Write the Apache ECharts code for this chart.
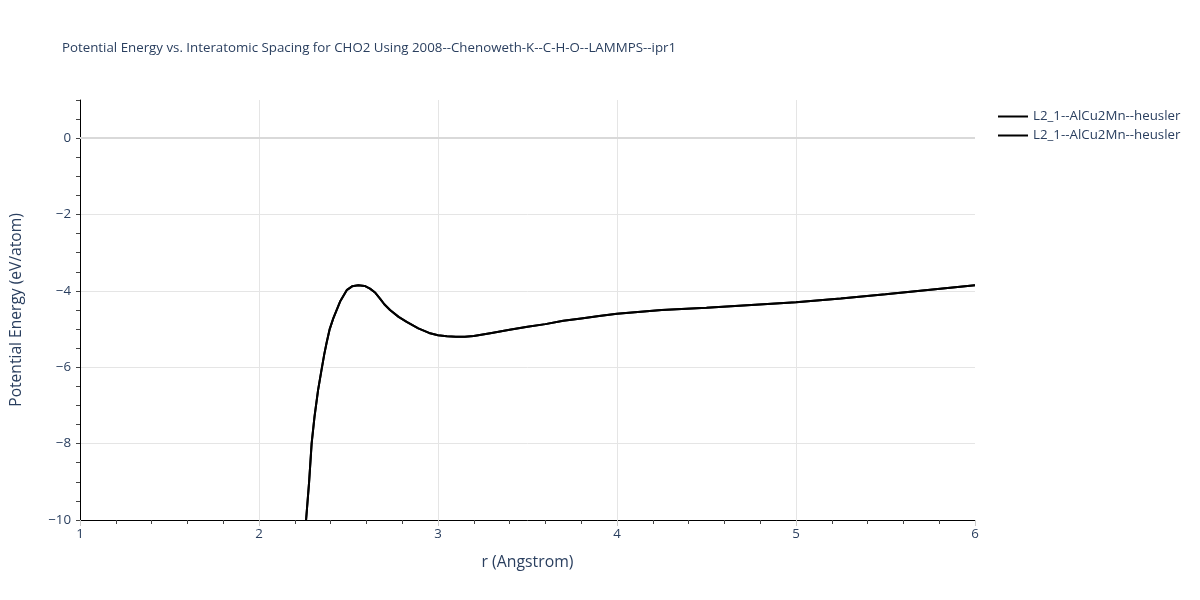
<!DOCTYPE html>
<html>
<head>
<meta charset="utf-8">
<script src="https://cdn.jsdelivr.net/npm/echarts@6/dist/echarts.min.js"></script>
<style>html,body{margin:0;padding:0;background:#fff;}#c{width:1200px;height:600px;}</style>
</head>
<body>
<div id="c"></div>
<script>
const titleText = 'Potential Energy vs. Interatomic Spacing for CHO2 Using 2008--Chenoweth-K--C-H-O--LAMMPS--ipr1';
const seriesName = 'L2_1--AlCu2Mn--heusler';
const rValues = [2.25, 2.263, 2.28, 2.294, 2.31, 2.33, 2.35, 2.365, 2.378, 2.395, 2.415, 2.453, 2.49, 2.52, 2.555, 2.59, 2.62, 2.65, 2.676, 2.70, 2.732, 2.78, 2.825, 2.89, 2.95, 3.00, 3.05, 3.10, 3.15, 3.20, 3.30, 3.40, 3.50, 3.60, 3.70, 3.80, 3.90, 4.00, 4.25, 4.50, 4.75, 5.00, 5.25, 5.50, 5.75, 6.00];
const energyValues = [-10.9, -10.0, -9.0, -8.0, -7.3, -6.6, -6.05, -5.65, -5.35, -5.0, -4.72, -4.28, -3.98, -3.88, -3.85, -3.87, -3.94, -4.05, -4.20, -4.35, -4.50, -4.68, -4.81, -4.98, -5.10, -5.16, -5.19, -5.20, -5.20, -5.18, -5.10, -5.02, -4.94, -4.87, -4.78, -4.72, -4.66, -4.60, -4.50, -4.44, -4.37, -4.30, -4.20, -4.09, -3.97, -3.85];
const xTicks = [1, 2, 3, 4, 5, 6];
const yTicks = [-10, -8, -6, -4, -2, 0];

const pts = rValues.map((r, i) => [r, energyValues[i]]);
const txt = '#2a3f5f';
const font = '"Open Sans", "Noto Sans", sans-serif';
const grid = '#e5e5e5';

const chart = echarts.init(document.getElementById('c'), null, {renderer: 'canvas'});
chart.setOption({
  animation: false,
  backgroundColor: '#fff',
  textStyle: {fontFamily: font},
  title: {
    text: titleText, left: 57, top: 37,
    textStyle: {fontSize: 13.3, fontWeight: 'normal', color: txt, fontFamily: font}
  },
  legend: {
    orient: 'vertical', left: 993, top: 105,
    itemWidth: 30, itemHeight: 14, itemGap: 6,
    icon: 'path://M0,6 L30,6 L30,8 L0,8 Z',
    textStyle: {fontSize: 13.3, color: txt, fontFamily: font},
    data: [seriesName, seriesName + ' ']
  },
  grid: {left: 80, right: 225, top: 100, bottom: 80, containLabel: false},
  xAxis: [{
    type: 'value', min: 1, max: 6, interval: 1,
    name: 'r (Angstrom)', nameLocation: 'middle', nameGap: 34,
    nameTextStyle: {fontSize: 15.8, color: txt, fontFamily: font},
    axisLine: {show: true, onZero: false, lineStyle: {color: '#000', width: 1}},
    axisTick: {show: true, length: 6, lineStyle: {color: '#ccc'}},
    minorTick: {show: true, splitNumber: 5, length: 4, lineStyle: {color: '#444'}},
    axisLabel: {fontSize: 13.3, color: txt, margin: 8, fontFamily: font,
      formatter: v => xTicks.includes(v) ? String(v) : ''},
    splitLine: {show: true, lineStyle: {color: [grid, grid, grid, grid, grid, 'rgba(0,0,0,0)'], width: 1}}
  }],
  yAxis: [{
    type: 'value', min: -10, max: 1, interval: 2,
    name: 'Potential Energy (eV/atom)', nameLocation: 'middle', nameGap: 55,
    nameTextStyle: {fontSize: 15.6, color: txt, fontFamily: font},
    axisLine: {show: true, onZero: false, lineStyle: {color: '#000', width: 1}},
    axisTick: {show: false},
    axisLabel: {fontSize: 13.3, color: txt, margin: 9, fontFamily: font,
      formatter: v => yTicks.includes(v) ? (v < 0 ? '\u2212' + Math.abs(v) : String(v)) : ''},
    splitLine: {show: true, lineStyle: {color: [grid, grid, grid, grid, grid, grid, 'rgba(0,0,0,0)'], width: 1}}
  }, {
    type: 'value', min: -10, max: 1, interval: 0.5, position: 'left',
    axisLine: {show: false},
    axisTick: {show: true, length: 4, lineStyle: {color: '#444'}},
    axisLabel: {show: false},
    splitLine: {show: false}
  }],
  series: [{
    name: seriesName, type: 'line', data: pts, symbol: 'none', smooth: false,
    lineStyle: {color: '#000', width: 2}, itemStyle: {color: '#000'}, clip: true,
    markLine: {
      silent: true, symbol: 'none', label: {show: false},
      lineStyle: {color: '#d9d9d9', width: 2, type: 'solid'},
      data: [{yAxis: 0}]
    },
    z: 3
  }, {
    name: seriesName + ' ', type: 'line', data: pts, symbol: 'none', smooth: false,
    lineStyle: {color: '#000', width: 2}, itemStyle: {color: '#000'}, clip: true, z: 4
  }]
});
</script>
</body>
</html>
